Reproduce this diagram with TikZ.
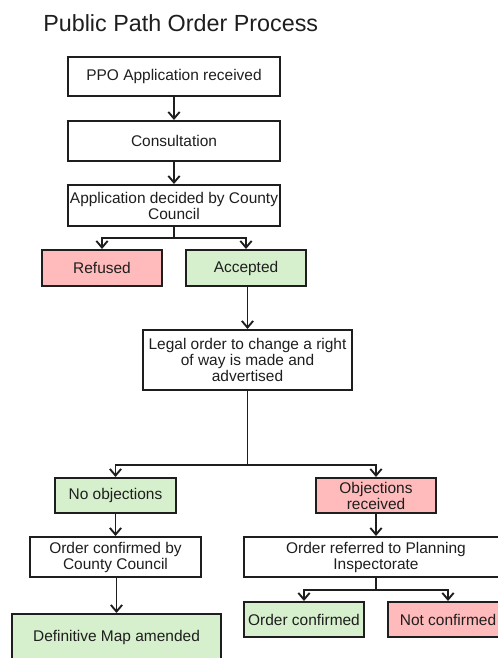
\documentclass[tikz,border=0pt]{standalone}
\usepackage{fontspec}
\setmainfont{Liberation Sans}
\usetikzlibrary{arrows.meta}

\definecolor{nogo}{RGB}{255,187,187}
\definecolor{go}{RGB}{214,240,205}
\definecolor{ink}{RGB}{30,30,30}

\tikzset{
    stepbox/.style = {draw=ink, line width=1.5pt, align=center, inner sep=1pt,
        text=ink, font=\fontsize{11.6}{12}\selectfont},
    redbox/.style = {stepbox, fill=nogo},
    greenbox/.style = {stepbox, fill=go},
    link/.style = {draw=ink, line width=1.4pt},
    flow/.style = {link, -{Straight Barb[length=5pt,width=8.5pt,line width=1.4pt]}}
}

\begin{document}
\begin{tikzpicture}[x=0.75pt, y=-0.75pt]
    \useasboundingbox (0,0) rectangle (498,658);
    \clip (0,0) rectangle (498,658);
    \node[anchor=base west, inner sep=0, text=ink, font=\fontsize{17.5}{20}\selectfont] (title) at (43, 31.5) {Public Path Order Process};
    \node[stepbox, minimum width=159pt, minimum height=29.25pt] (ppo) at (174, 76.5) {PPO Application received};
    \node[stepbox, minimum width=159pt, minimum height=30pt] (consult) at (174, 141) {Consultation};
    \node[stepbox, minimum width=159pt, minimum height=30.75pt] (decided) at (174, 205.5) {Application decided by County\\Council};
    \node[redbox, minimum width=90pt, minimum height=27pt] (refused) at (102, 268) {Refused};
    \node[greenbox, minimum width=90pt, minimum height=27pt] (accepted) at (246, 268) {Accepted};
    \node[stepbox, minimum width=156.75pt, minimum height=45pt] (legal) at (247.5, 360) {Legal order to change a right\\of way is made and\\advertised};
    \node[greenbox, minimum width=90.75pt, minimum height=26.25pt] (noobj) at (115.5, 495.5) {No objections};
    \node[redbox, minimum width=90pt, minimum height=26.25pt] (objrec) at (376, 495.5) {Objections\\received};
    \node[stepbox, minimum width=128.25pt, minimum height=30pt] (ordcc) at (115.5, 557) {Order confirmed by\\County Council};
    \node[stepbox, minimum width=198pt, minimum height=30pt] (referred) at (376, 557) {Order referred to Planning\\Inspectorate};
    \node[greenbox, minimum width=156.75pt, minimum height=34.5pt] (defmap) at (116.5, 637) {Definitive Map amended};
    \node[greenbox, minimum width=90pt, minimum height=26.25pt] (ordconf) at (304, 619.5) {Order confirmed};
    \node[redbox, minimum width=90pt, minimum height=26.25pt] (notconf) at (448, 619.5) {Not confirmed};
    % split points
    \coordinate (s1) at (174, 238);
    \coordinate (s2) at (247.5, 465);
    \coordinate (s3) at (376, 590);
    \draw[flow] (ppo) -- (consult);
    \draw[flow] (consult) -- (decided);
    \draw[link] (decided) -- (s1);
    \draw[flow] (s1) -| (refused);
    \draw[flow] (s1) -| (accepted);
    \draw[flow] (accepted.south -| legal.north) -- (legal);
    \draw[link] (legal) -- (s2);
    \draw[flow] (s2) -| (noobj);
    \draw[flow] (s2) -| (objrec);
    \draw[flow] (noobj) -- (ordcc);
    \draw[flow] (objrec) -- (referred);
    \draw[flow] (ordcc.south -| defmap.north) -- (defmap);
    \draw[link] (referred) -- (s3);
    \draw[flow] (s3) -| (ordconf);
    \draw[flow] (s3) -| (notconf);
\end{tikzpicture}
\end{document}
